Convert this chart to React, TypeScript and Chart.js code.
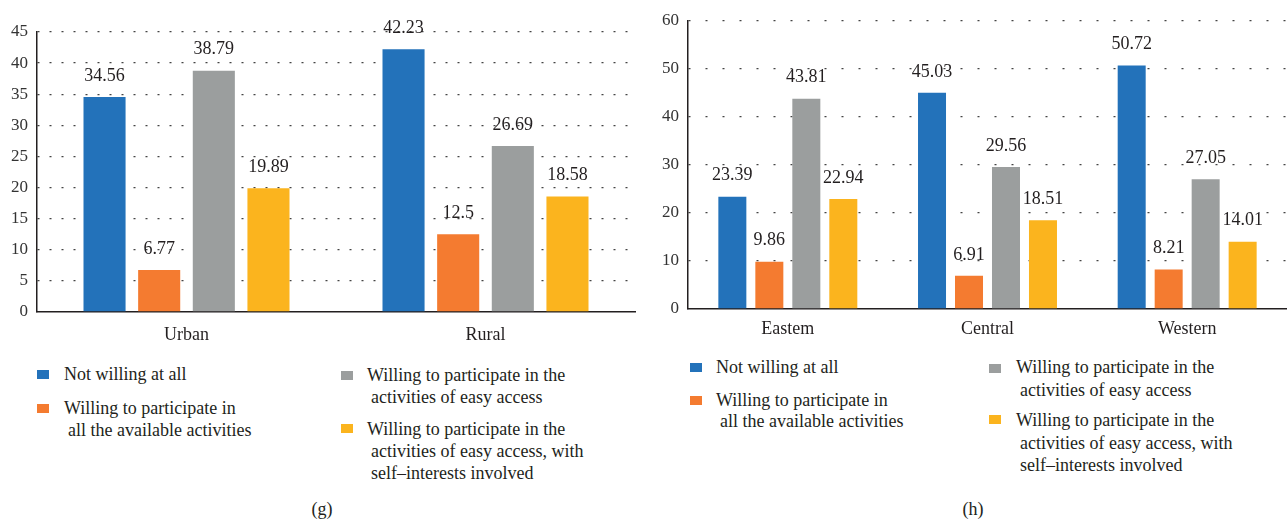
import React, { useEffect, useRef } from "react";
import { Chart, registerables } from "chart.js";

Chart.register(...registerables);

// ---------- data ----------
const seriesNames = [
  "Not willing at all",
  "Willing to participate in all the available activities",
  "Willing to participate in the activities of easy access",
  "Willing to participate in the activities of easy access, with self–interests involved",
];

const gCategories = ["Urban", "Rural"];
const gNotWilling = [34.56, 42.23];
const gAllActivities = [6.77, 12.5];
const gEasyAccess = [38.79, 26.69];
const gSelfInterest = [19.89, 18.58];
const gTicks = { max: 45, step: 5 };

const hCategories = ["Eastem", "Central", "Western"];
const hNotWilling = [23.39, 45.03, 50.72];
const hAllActivities = [9.86, 6.91, 8.21];
const hEasyAccess = [43.81, 29.56, 27.05];
const hSelfInterest = [22.94, 18.51, 14.01];
const hTicks = { max: 60, step: 10 };

const legendLines = [
  ["Not willing at all"],
  ["Willing to participate in", "all the available activities"],
  ["Willing to participate in the", "activities of easy access"],
  ["Willing to participate in the", "activities of easy access, with", "self–interests involved"],
];

// ---------- style ----------
const COLORS = ["#2372ba", "#f47b30", "#9b9e9e", "#fbb41e"];
const TEXT = "#231f20";
const FONT = '"Liberation Serif", "Times New Roman", serif';

const valueLabels = {
  id: "valueLabels",
  afterDatasetsDraw(chart: any) {
    const ctx = chart.ctx;
    ctx.save();
    ctx.font = `18px ${FONT}`;
    ctx.fillStyle = TEXT;
    ctx.textAlign = "center";
    ctx.textBaseline = "middle";
    chart.data.datasets.forEach((ds: any, i: number) => {
      const meta = chart.getDatasetMeta(i);
      meta.data.forEach((el: any, j: number) => {
        ctx.fillText(String(ds.data[j]), el.x, el.y - 21);
      });
    });
    ctx.restore();
  },
};

type BarProps = {
  categories: string[];
  series: number[][];
  max: number;
  step: number;
  left: number;
  width: number;
  height: number;
  yAxisWidth: number;
  xAxisHeight: number;
  padTop: number;
  padRight: number;
  catPct: number;
  barPct: number;
  dash: number[];
  xPad: number;
};

function BarChart(p: BarProps) {
  const ref = useRef<HTMLCanvasElement | null>(null);
  useEffect(() => {
    if (!ref.current) return;
    const chart = new Chart(ref.current, {
      type: "bar",
      data: {
        labels: p.categories,
        datasets: p.series.map((d, i) => ({
          label: seriesNames[i],
          data: d,
          backgroundColor: COLORS[i],
          borderWidth: 0,
          categoryPercentage: p.catPct,
          barPercentage: p.barPct,
        })),
      },
      options: {
        responsive: false,
        animation: false,
        layout: { padding: { top: p.padTop, right: p.padRight, left: 0, bottom: 0 } },
        plugins: { legend: { display: false }, tooltip: { enabled: false } },
        scales: {
          x: {
            grid: { display: false, drawTicks: false },
            border: { display: true, color: TEXT, width: 1.5 },
            ticks: { color: TEXT, font: { family: FONT, size: 18 }, padding: p.xPad },
            afterFit: (s: any) => {
              s.height = p.xAxisHeight;
            },
          },
          y: {
            min: 0,
            max: p.max,
            grid: {
              drawTicks: false,
              lineWidth: 1.3,
              color: (c: any) => (c.tick && c.tick.value === 0 ? "rgba(0,0,0,0)" : "#444"),
            },
            border: { display: true, color: TEXT, width: 1.5, dash: p.dash },
            ticks: {
              stepSize: p.step,
              color: "#333",
              font: { family: FONT, size: 17 },
              padding: 9,
            },
            afterFit: (s: any) => {
              s.width = p.yAxisWidth;
            },
          },
        },
      },
      plugins: [valueLabels],
    } as any);
    return () => chart.destroy();
  }, []);
  return (
    <canvas
      ref={ref}
      width={p.width}
      height={p.height}
      style={{ position: "absolute", left: p.left, top: 0, width: p.width, height: p.height }}
    />
  );
}

type LegendPos = { sqLeft: number; sqTop: number; textLeft: number; lineY: number[] };

function Legend({ items }: { items: LegendPos[] }) {
  return (
    <>
      {items.map((it, i) => (
        <React.Fragment key={i}>
          <div
            style={{
              position: "absolute",
              left: it.sqLeft,
              top: it.sqTop,
              width: 12,
              height: 9,
              background: COLORS[i],
            }}
          />
          {legendLines[i].map((t, k) => (
            <div
              key={k}
              style={{
                position: "absolute",
                left: it.textLeft + (k > 0 ? 4 : 0),
                top: it.lineY[k] - 11,
                height: 22,
                lineHeight: "22px",
                whiteSpace: "nowrap",
              }}
            >
              {t}
            </div>
          ))}
        </React.Fragment>
      ))}
    </>
  );
}

export default function App() {
  return (
    <div
      style={{
        position: "fixed",
        left: 0,
        top: 0,
        width: 1287,
        height: 522,
        overflow: "hidden",
        background: "#fff",
        fontFamily: FONT,
        fontSize: 18,
        color: TEXT,
      }}
    >
      <BarChart
        categories={gCategories}
        series={[gNotWilling, gAllActivities, gEasyAccess, gSelfInterest]}
        max={gTicks.max}
        step={gTicks.step}
        left={0}
        width={640}
        height={350}
        yAxisWidth={37}
        xAxisHeight={38}
        padTop={32}
        padRight={5}
        catPct={0.731}
        barPct={0.77}
        dash={[2, 10]}
        xPad={12}
      />
      <BarChart
        categories={hCategories}
        series={[hNotWilling, hAllActivities, hEasyAccess, hSelfInterest]}
        max={hTicks.max}
        step={hTicks.step}
        left={640}
        width={647}
        height={345}
        yAxisWidth={48}
        xAxisHeight={36}
        padTop={21}
        padRight={0}
        catPct={0.741}
        barPct={0.757}
        dash={[2, 15]}
        xPad={9}
      />
      <Legend
        items={[
          { sqLeft: 37, sqTop: 370, textLeft: 64, lineY: [374] },
          { sqLeft: 37, sqTop: 404, textLeft: 64, lineY: [408, 430] },
          { sqLeft: 341, sqTop: 371, textLeft: 367, lineY: [375, 397] },
          { sqLeft: 341, sqTop: 424, textLeft: 367, lineY: [429, 451, 473] },
        ]}
      />
      <Legend
        items={[
          { sqLeft: 690, sqTop: 363, textLeft: 716, lineY: [367] },
          { sqLeft: 690, sqTop: 396, textLeft: 716, lineY: [400, 421] },
          { sqLeft: 989, sqTop: 364, textLeft: 1016, lineY: [367, 390] },
          { sqLeft: 989, sqTop: 415, textLeft: 1016, lineY: [420, 443, 465] },
        ]}
      />
      <div style={{ position: "absolute", left: 272, width: 100, top: 498, lineHeight: "22px", textAlign: "center" }}>
        (g)
      </div>
      <div style={{ position: "absolute", left: 923, width: 100, top: 498, lineHeight: "22px", textAlign: "center" }}>
        (h)
      </div>
    </div>
  );
}
